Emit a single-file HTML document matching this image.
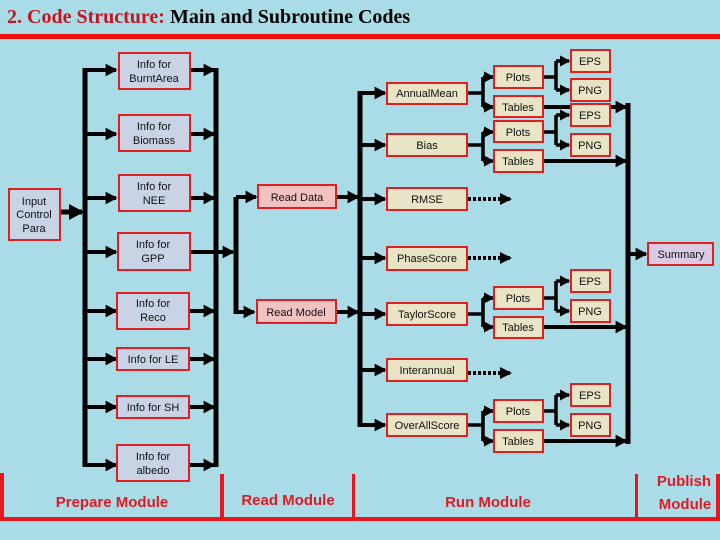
<!DOCTYPE html>
<html><head><meta charset="utf-8"><style>
html,body{margin:0;padding:0;width:720px;height:540px;overflow:hidden;background:#a9dce6}
svg{display:block}
text{font-family:"Liberation Sans",sans-serif}
</style></head><body>
<svg width="720" height="540" viewBox="0 0 720 540" xmlns="http://www.w3.org/2000/svg">
<defs>
<marker id="a" markerWidth="3" markerHeight="3.2" refX="2.6" refY="1.6" orient="auto" markerUnits="strokeWidth"><path d="M0,0 L3,1.6 L0,3.2z" fill="#000"/></marker>
<marker id="b" markerWidth="3" markerHeight="3" refX="2.5" refY="1.5" orient="auto" markerUnits="strokeWidth"><path d="M0,0 L3,1.5 L0,3z" fill="#000"/></marker>
</defs>
<rect width="720" height="540" fill="#a9dce6"/>
<text x="7" y="23" font-weight="bold" font-size="20" fill="#c8141e" style="font-family:'Liberation Serif',serif">2. Code Structure: <tspan fill="#000">Main and Subroutine Codes</tspan></text>
<rect x="0" y="34" width="720" height="5" fill="#ee1111"/>

<g stroke="#000" stroke-width="5" fill="none">
<line x1="85" y1="68" x2="85" y2="467"/>
<line x1="216" y1="68" x2="216" y2="467"/>
<line x1="60" y1="212" x2="82" y2="212" marker-end="url(#a)"/>
<line x1="236" y1="197" x2="236" y2="314"/>
<line x1="360" y1="91" x2="360" y2="427"/>
<line x1="628" y1="103" x2="628" y2="444"/>
</g>
<g stroke="#000" stroke-width="4" fill="none" marker-end="url(#a)">
<line x1="85" y1="70" x2="116" y2="70"/><line x1="190" y1="70" x2="214" y2="70"/>
<line x1="85" y1="134" x2="116" y2="134"/><line x1="190" y1="134" x2="214" y2="134"/>
<line x1="85" y1="198" x2="116" y2="198"/><line x1="190" y1="198" x2="214" y2="198"/>
<line x1="85" y1="252" x2="116" y2="252"/><line x1="190" y1="252" x2="233" y2="252"/>
<line x1="85" y1="311" x2="116" y2="311"/><line x1="190" y1="311" x2="214" y2="311"/>
<line x1="85" y1="359" x2="116" y2="359"/><line x1="190" y1="359" x2="214" y2="359"/>
<line x1="85" y1="407" x2="116" y2="407"/><line x1="190" y1="407" x2="214" y2="407"/>
<line x1="85" y1="465" x2="116" y2="465"/><line x1="190" y1="465" x2="214" y2="465"/>
<line x1="236" y1="197" x2="256" y2="197"/><line x1="236" y1="312" x2="254" y2="312"/>
<line x1="336" y1="197" x2="358" y2="197"/><line x1="336" y1="312" x2="358" y2="312"/>
<line x1="360" y1="93" x2="385" y2="93"/>
<line x1="360" y1="145" x2="385" y2="145"/>
<line x1="360" y1="199" x2="385" y2="199"/>
<line x1="360" y1="258" x2="385" y2="258"/>
<line x1="360" y1="314" x2="385" y2="314"/>
<line x1="360" y1="370" x2="385" y2="370"/>
<line x1="360" y1="425" x2="385" y2="425"/>
<line x1="543" y1="107" x2="626" y2="107"/>
<line x1="543" y1="161" x2="626" y2="161"/>
<line x1="543" y1="327" x2="626" y2="327"/>
<line x1="543" y1="441" x2="626" y2="441"/>
<line x1="628" y1="254" x2="646" y2="254"/>
</g>
<g stroke="#000" stroke-width="4" fill="none" stroke-dasharray="3,2" marker-end="url(#b)">
<line x1="468" y1="199" x2="510" y2="199"/>
<line x1="468" y1="258" x2="510" y2="258"/>
<line x1="468" y1="373" x2="510" y2="373"/>
</g>
<g stroke="#000" stroke-width="3.5" fill="none">
<path d="M467,93 H483 M483,77 V107 M467,145 H483 M483,132 V161 M467,314 H483 M483,298 V327 M467,425 H483 M483,411 V441"/>
<path d="M543,77 H556 M556,61 V90 M543,132 H556 M556,115 V145 M543,298 H556 M556,281 V311 M543,411 H556 M556,395 V425"/>
</g>
<g stroke="#000" stroke-width="3.5" fill="none" marker-end="url(#a)">
<line x1="483" y1="77" x2="493" y2="77"/><line x1="483" y1="107" x2="493" y2="107"/>
<line x1="483" y1="132" x2="493" y2="132"/><line x1="483" y1="161" x2="493" y2="161"/>
<line x1="483" y1="298" x2="493" y2="298"/><line x1="483" y1="327" x2="493" y2="327"/>
<line x1="483" y1="411" x2="493" y2="411"/><line x1="483" y1="441" x2="493" y2="441"/>
<line x1="556" y1="61" x2="569" y2="61"/><line x1="556" y1="90" x2="569" y2="90"/>
<line x1="556" y1="115" x2="569" y2="115"/><line x1="556" y1="145" x2="569" y2="145"/>
<line x1="556" y1="281" x2="569" y2="281"/><line x1="556" y1="311" x2="569" y2="311"/>
<line x1="556" y1="395" x2="569" y2="395"/><line x1="556" y1="425" x2="569" y2="425"/>
</g>

<g stroke="#e02020" stroke-width="2">
<rect x="9" y="189" width="51" height="51" fill="#c9d3e6"/>
<rect x="119" y="53" width="71" height="36" fill="#c9d3e6"/>
<rect x="119" y="115" width="71" height="36" fill="#c9d3e6"/>
<rect x="119" y="175" width="71" height="36" fill="#c9d3e6"/>
<rect x="118" y="233" width="72" height="37" fill="#c9d3e6"/>
<rect x="117" y="293" width="72" height="36" fill="#c9d3e6"/>
<rect x="117" y="348" width="72" height="22" fill="#c9d3e6"/>
<rect x="117" y="396" width="72" height="22" fill="#c9d3e6"/>
<rect x="117" y="445" width="72" height="36" fill="#c9d3e6"/>
<rect x="258" y="185" width="78" height="23" fill="#f2c2c2"/>
<rect x="257" y="300" width="79" height="23" fill="#f2c2c2"/>
<rect x="387" y="83" width="80" height="21" fill="#e9e4c6"/>
<rect x="387" y="134" width="80" height="22" fill="#e9e4c6"/>
<rect x="387" y="188" width="80" height="22" fill="#e9e4c6"/>
<rect x="387" y="247" width="80" height="23" fill="#e9e4c6"/>
<rect x="387" y="303" width="80" height="22" fill="#e9e4c6"/>
<rect x="387" y="359" width="80" height="22" fill="#e9e4c6"/>
<rect x="387" y="414" width="80" height="22" fill="#e9e4c6"/>
<rect x="494" y="66" width="49" height="22" fill="#e9e4c6"/>
<rect x="494" y="96" width="49" height="21" fill="#e9e4c6"/>
<rect x="494" y="121" width="49" height="21" fill="#e9e4c6"/>
<rect x="494" y="150" width="49" height="22" fill="#e9e4c6"/>
<rect x="494" y="287" width="49" height="22" fill="#e9e4c6"/>
<rect x="494" y="317" width="49" height="21" fill="#e9e4c6"/>
<rect x="494" y="400" width="49" height="22" fill="#e9e4c6"/>
<rect x="494" y="430" width="49" height="22" fill="#e9e4c6"/>
<rect x="571" y="50" width="39" height="22" fill="#e9e4c6"/>
<rect x="571" y="79" width="39" height="22" fill="#e9e4c6"/>
<rect x="571" y="104" width="39" height="22" fill="#e9e4c6"/>
<rect x="571" y="134" width="39" height="22" fill="#e9e4c6"/>
<rect x="571" y="270" width="39" height="22" fill="#e9e4c6"/>
<rect x="571" y="300" width="39" height="22" fill="#e9e4c6"/>
<rect x="571" y="384" width="39" height="22" fill="#e9e4c6"/>
<rect x="571" y="414" width="39" height="22" fill="#e9e4c6"/>
<rect x="648" y="243" width="65" height="22" fill="#d9cbe6"/>
</g>
<g font-size="11" text-anchor="middle" fill="#111">
<text x="34" y="205">Input</text><text x="34" y="218">Control</text><text x="34" y="232">Para</text>
<text x="154" y="68">Info for</text><text x="154" y="82">BurntArea</text>
<text x="154" y="130">Info for</text><text x="154" y="144">Biomass</text>
<text x="154" y="190">Info for</text><text x="154" y="204">NEE</text>
<text x="153" y="248">Info for</text><text x="153" y="262">GPP</text>
<text x="153" y="307">Info for</text><text x="153" y="321">Reco</text>
<text x="153" y="363">Info for LE</text>
<text x="153" y="411">Info for SH</text>
<text x="153" y="460">Info for</text><text x="153" y="474">albedo</text>
<text x="297" y="201">Read Data</text>
<text x="296" y="316">Read Model</text>
<text x="427" y="97">AnnualMean</text>
<text x="427" y="149">Bias</text>
<text x="427" y="203">RMSE</text>
<text x="427" y="262">PhaseScore</text>
<text x="427" y="318">TaylorScore</text>
<text x="427" y="374">Interannual</text>
<text x="427" y="429">OverAllScore</text>
<text x="518" y="81">Plots</text><text x="518" y="111">Tables</text>
<text x="518" y="136">Plots</text><text x="518" y="165">Tables</text>
<text x="518" y="302">Plots</text><text x="518" y="331">Tables</text>
<text x="518" y="415">Plots</text><text x="518" y="445">Tables</text>
<text x="590" y="65">EPS</text><text x="590" y="94">PNG</text>
<text x="590" y="119">EPS</text><text x="590" y="149">PNG</text>
<text x="590" y="285">EPS</text><text x="590" y="315">PNG</text>
<text x="590" y="399">EPS</text><text x="590" y="429">PNG</text>
<text x="681" y="258">Summary</text>
</g>

<g fill="#e8141e">
<rect x="0" y="473" width="4" height="48"/>
<rect x="0" y="517" width="720" height="4"/>
<rect x="220" y="474" width="4" height="46"/>
<rect x="352" y="474" width="3" height="46"/>
<rect x="635" y="474" width="3" height="46"/>
<rect x="716" y="474" width="4" height="46"/>
</g>
<g fill="#e01a22" font-size="15" font-weight="bold" text-anchor="middle">
<text x="112" y="507">Prepare Module</text>
<text x="288" y="505">Read Module</text>
<text x="488" y="507">Run Module</text>
<text x="684" y="486">Publish</text>
<text x="685" y="509">Module</text>
</g>
</svg>
</body></html>
